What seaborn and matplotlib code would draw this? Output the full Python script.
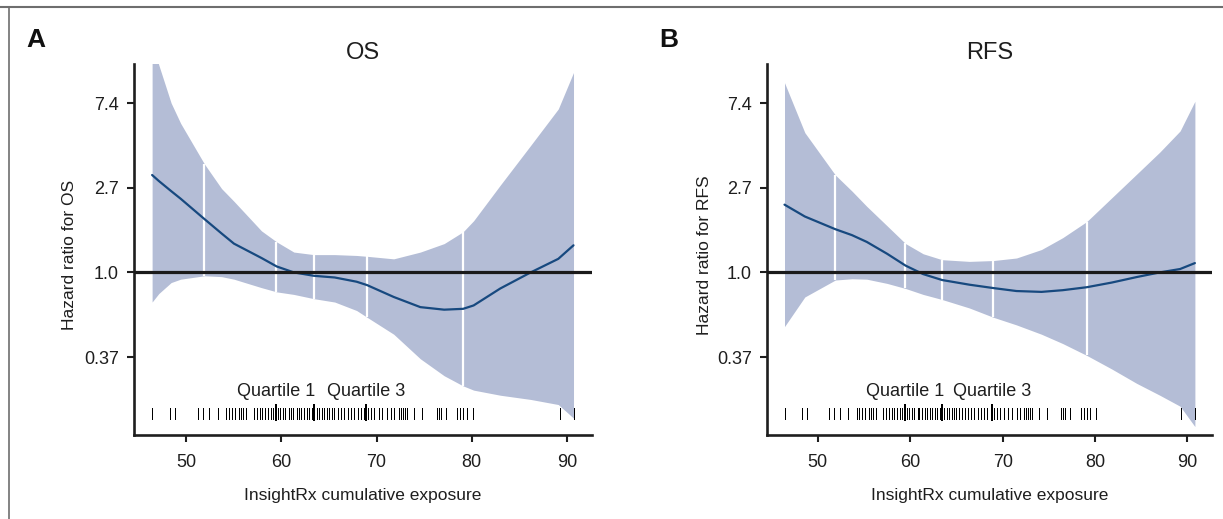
import numpy as np
import pandas as pd
import seaborn as sns
import matplotlib.pyplot as plt
from matplotlib.lines import Line2D

sns.set_style('ticks')
plt.rcParams['font.family'] = ['Liberation Sans', 'DejaVu Sans']

# cumulative exposure of each patient (rug), same cohort in both panels
exposure = [46.4, 48.25, 48.8, 51.2, 51.75, 52.35, 53.3, 54.2, 54.45, 54.8, 55.1,
            55.5, 55.75, 56.0, 56.3, 57.1, 57.4, 57.7, 58.0, 58.25, 58.55, 58.9,
            59.15, 59.4, 59.6, 59.85, 60.15, 60.4, 60.8, 61.0, 61.25, 61.6, 61.85,
            62.1, 62.4, 62.65, 62.9, 63.2, 63.45, 63.7, 63.95, 64.25, 64.5, 64.75,
            65.0, 65.3, 65.55, 65.9, 66.25, 66.6, 66.95, 67.3, 67.65, 68.0, 68.35,
            68.7, 68.9, 69.1, 69.4, 69.75, 70.2, 70.6, 71.05, 71.5, 71.85, 72.35,
            72.55, 72.75, 73.0, 73.2, 73.95, 74.75, 76.3, 76.55, 76.8, 77.3, 78.45,
            78.75, 79.1, 79.5, 80.1, 89.25, 90.8]
quartiles = [59.4, 63.45, 68.9]          # Q1, median, Q3
knots = [51.9, 59.45, 63.45, 69.0, 79.1]  # spline knots (white separators)

# OS: log hazard ratio with 95% band
os_x = [46.4, 47.1, 48.4, 49.4, 51.9, 53.7, 55.0, 57.9, 59.5, 61.3, 63.4, 65.6,
        67.9, 69.0, 71.8, 74.6, 77.1, 79.1, 80.2, 83.0, 86.2, 89.1, 90.7]
os_fit = [1.15, 1.08, 0.96, 0.87, 0.63, 0.46, 0.34, 0.17, 0.07, 0.0, -0.04, -0.06,
          -0.11, -0.15, -0.29, -0.41, -0.44, -0.43, -0.39, -0.19, 0.0, 0.16, 0.32]
os_lower = [-0.35, -0.25, -0.12, -0.08, -0.04, -0.05, -0.08, -0.18, -0.23, -0.26,
            -0.31, -0.35, -0.45, -0.53, -0.73, -1.02, -1.22, -1.34, -1.39, -1.45,
            -1.50, -1.56, -1.72]
os_upper = [2.75, 2.45, 2.0, 1.76, 1.28, 0.99, 0.84, 0.49, 0.36, 0.24, 0.21, 0.21,
            0.20, 0.19, 0.16, 0.24, 0.34, 0.48, 0.61, 1.03, 1.50, 1.93, 2.36]

# RFS
rfs_x = [46.4, 48.6, 51.9, 53.7, 55.3, 57.5, 59.5, 61.4, 63.45, 66.4, 69.0, 71.5,
         74.2, 76.5, 79.1, 81.8, 84.5, 87.0, 89.2, 90.8]
rfs_fit = [0.80, 0.66, 0.51, 0.44, 0.36, 0.22, 0.08, -0.02, -0.09, -0.145, -0.185,
           -0.22, -0.23, -0.21, -0.175, -0.12, -0.055, 0.0, 0.04, 0.11]
rfs_lower = [-0.64, -0.29, -0.09, -0.075, -0.08, -0.13, -0.19, -0.26, -0.32, -0.42,
             -0.53, -0.62, -0.73, -0.84, -0.98, -1.14, -1.31, -1.45, -1.58, -1.82]
rfs_upper = [2.24, 1.65, 1.15, 0.96, 0.78, 0.55, 0.34, 0.22, 0.15, 0.13, 0.14, 0.17,
             0.27, 0.41, 0.60, 0.88, 1.16, 1.42, 1.67, 2.02]

hr_ticks = [-1, 0, 1, 2]
hr_labels = ['0.37', '1.0', '2.7', '7.4']
x_ticks = [50, 60, 70, 80, 90]

band_col = '#b4bdd6'
line_col = '#17497f'
ink = '#1e1e1e'

fig = plt.figure(figsize=(12.23, 5.19), dpi=100)
ax_os = fig.add_axes([0.1096, 0.1618, 0.3745, 0.7148])
ax_rfs = fig.add_axes([0.6271, 0.1618, 0.3639, 0.7148])


def draw_panel(ax, x, fit, lower, upper, name):
    ax.fill_between(x, lower, upper, color=band_col, lw=0, zorder=1)
    ax.vlines(knots, np.interp(knots, x, lower), np.interp(knots, x, upper),
              color='white', lw=1.6, zorder=2)
    df = pd.DataFrame({'exposure': x, 'log_hr': fit})
    sns.lineplot(data=df, x='exposure', y='log_hr', ax=ax, color=line_col, lw=1.6,
                 zorder=3)
    ax.axhline(0, color='#1a1a1a', lw=2.3, zorder=4)

    # rug of exposures, quartiles drawn taller
    ax.vlines(exposure, -1.733, -1.596, color='black', lw=0.7, zorder=3,
              antialiased=False)
    ax.vlines(quartiles, -1.76, -1.553, color='black', lw=1.4, zorder=3,
              antialiased=False)
    ax.text(quartiles[0], -1.46, 'Quartile 1', ha='center', va='baseline',
            fontsize=13, color=ink)
    ax.text(quartiles[2], -1.46, 'Quartile 3', ha='center', va='baseline',
            fontsize=13, color=ink)

    ax.set_xlim(44.5, 92.65)
    ax.set_ylim(-1.92, 2.46)
    ax.set_xticks(x_ticks)
    ax.set_yticks(hr_ticks)
    ax.set_yticklabels(hr_labels)
    ax.tick_params(axis='both', labelsize=13, length=5, width=1.5, color=ink,
                   labelcolor=ink)
    ax.tick_params(axis='x', pad=9)
    ax.tick_params(axis='y', pad=6)
    for side in ['left', 'bottom']:
        ax.spines[side].set_linewidth(1.9)
        ax.spines[side].set_color(ink)
    sns.despine(ax=ax)

    ax.set_title(name, fontsize=17, pad=3, color=ink)
    ax.set_xlabel('InsightRx cumulative exposure', fontsize=12.5, color=ink)
    ax.set_ylabel('Hazard ratio for ' + name, fontsize=12.5, color=ink)
    ax.xaxis.label.set_va('center')
    ax.yaxis.label.set_va('center')
    ax.xaxis.set_label_coords(0.5, -0.162)
    ax.yaxis.set_label_coords(-0.14, 0.485)
    ax.grid(False)


draw_panel(ax_os, os_x, os_fit, os_lower, os_upper, 'OS')
draw_panel(ax_rfs, rfs_x, rfs_fit, rfs_lower, rfs_upper, 'RFS')

fig.text(36 / 1223, 1 - 40 / 519, 'A', fontsize=19, fontweight='bold',
         ha='center', va='center', color='#111111')
fig.text(669 / 1223, 1 - 40 / 519, 'B', fontsize=19, fontweight='bold',
         ha='center', va='center', color='#111111')

# frame lines along the top and left of the figure
fig.add_artist(Line2D([0, 1], [1 - 7 / 519, 1 - 7 / 519], transform=fig.transFigure,
                      color='#6e6e6e', lw=1.5))
fig.add_artist(Line2D([9 / 1223, 9 / 1223], [0, 1 - 7 / 519], transform=fig.transFigure,
                      color='#6e6e6e', lw=1.2))

fig.savefig('out.png', dpi=100)
